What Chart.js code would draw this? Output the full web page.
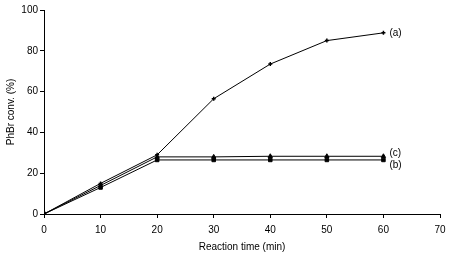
<!DOCTYPE html>
<html><head><meta charset="utf-8">
<script src="https://cdn.jsdelivr.net/npm/chart.js@4/dist/chart.umd.min.js"></script>
<style>html,body{margin:0;padding:0;background:#fff}#wrap{width:455px;height:253px}</style>
</head><body><div id="wrap"><canvas id="c" width="455" height="253"></canvas></div>
<script>
const times = [0, 10, 20, 30, 40, 50, 60];
const seriesA = [0, 15, 29, 56.5, 73.5, 85, 88.8];
const seriesB = [0, 13, 26.5, 26.5, 26.5, 26.5, 26.5];
const seriesC = [0, 14, 28, 28, 28.3, 28.3, 28.3];
const seriesLabels = ['(a)', '(b)', '(c)'];
const xTicks = [0, 10, 20, 30, 40, 50, 60, 70];
const yTicks = [0, 20, 40, 60, 80, 100];

const mk = (arr) => times.map((t, i) => ({x: t, y: arr[i]}));
const endLabels = {
  id: 'endLabels',
  afterDatasetsDraw(chart) {
    const ctx = chart.ctx;
    ctx.save();
    ctx.font = '10px "Liberation Sans", Arial, sans-serif';
    ctx.fillStyle = '#000';
    ctx.textBaseline = 'middle';
    const offs = [0, 5, -3];
    chart.data.datasets.forEach((ds, i) => {
      const meta = chart.getDatasetMeta(i);
      const p = meta.data[meta.data.length - 1];
      ctx.fillText(seriesLabels[i], p.x + 6, p.y + offs[i]);
    });
    ctx.restore();
  }
};
const font = {family: '"Liberation Sans", Arial, sans-serif', size: 10};
new Chart(document.getElementById('c'), {
  type: 'line',
  data: {
    datasets: [
      {data: mk(seriesA), borderColor: '#000', backgroundColor: '#000', borderWidth: 1, pointStyle: 'cross', pointRadius: 2, pointBorderWidth: 1.5, tension: 0},
      {data: mk(seriesB), borderColor: '#000', backgroundColor: '#000', borderWidth: 1, pointStyle: 'rect', pointRadius: 2.5, tension: 0},
      {data: mk(seriesC), borderColor: '#000', backgroundColor: '#000', borderWidth: 1, pointStyle: 'triangle', pointRadius: 2.5, tension: 0}
    ]
  },
  options: {
    responsive: false,
    animation: false,
    layout: {padding: {top: 10, right: 15, left: 0, bottom: 0}},
    plugins: {legend: {display: false}, tooltip: {enabled: false}},
    scales: {
      x: {
        type: 'linear', min: 0, max: 70,
        afterBuildTicks: (s) => { s.ticks = xTicks.map(v => ({value: v})); },
        afterFit: (s) => { s.height = 39; },
        grid: {drawOnChartArea: false, color: '#000', tickLength: 4},
        border: {color: '#000'},
        ticks: {color: '#000', font: font, maxRotation: 0, padding: 6},
        title: {display: true, text: 'Reaction time (min)', color: '#000', font: font, padding: {top: 2, bottom: 0}}
      },
      y: {
        min: 0, max: 100,
        afterBuildTicks: (s) => { s.ticks = yTicks.map(v => ({value: v})); },
        afterFit: (s) => { s.width = 44; },
        grid: {drawOnChartArea: false, color: '#000', tickLength: 4},
        border: {color: '#000'},
        ticks: {color: '#000', font: font, padding: 2},
        title: {display: true, text: 'PhBr conv. (%)', color: '#000', font: font, padding: {top: 5, bottom: 0}}
      }
    }
  },
  plugins: [endLabels]
});
</script></body></html>
